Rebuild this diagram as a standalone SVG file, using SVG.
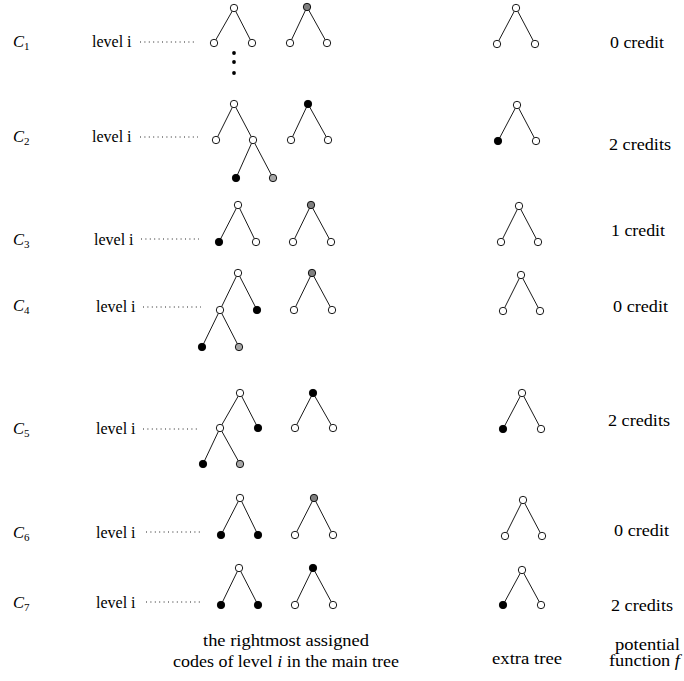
<svg xmlns="http://www.w3.org/2000/svg" width="684" height="681" viewBox="0 0 684 681" font-family="'Liberation Serif', 'DejaVu Serif', serif">
<style>
text{font-family:'Liberation Serif','DejaVu Serif',serif;font-size:16px;fill:#000}
.c{font-style:italic;font-size:16.5px}
.s{font-size:11px;font-style:normal}
.e line{stroke:#000;stroke-width:0.9}
.d{stroke:#222;stroke-width:1;stroke-dasharray:1 3.4}
circle{stroke:#000;stroke-width:0.9;fill:#fff}
circle.b{fill:#000}
circle.g{fill:#7f7f7f}
circle.l{fill:#a6a6a6}
circle.dot{fill:#000;stroke:none}
</style>
<rect width="684" height="681" fill="#fff"/>
<g id="labels">
<text class="c" x="13" y="47">C<tspan class="s" dy="3">1</tspan></text>
<text class="c" x="13" y="142">C<tspan class="s" dy="3">2</tspan></text>
<text class="c" x="13" y="245">C<tspan class="s" dy="3">3</tspan></text>
<text class="c" x="13" y="311">C<tspan class="s" dy="3">4</tspan></text>
<text class="c" x="13" y="434">C<tspan class="s" dy="3">5</tspan></text>
<text class="c" x="13" y="538">C<tspan class="s" dy="3">6</tspan></text>
<text class="c" x="13" y="608">C<tspan class="s" dy="3">7</tspan></text>
<text x="92" y="47">level i</text>
<text x="92" y="142">level i</text>
<text x="94" y="245">level i</text>
<text x="96" y="312">level i</text>
<text x="96" y="434">level i</text>
<text x="96" y="538">level i</text>
<text x="96" y="608">level i</text>
<text x="610" y="48" textLength="54" lengthAdjust="spacingAndGlyphs">0 credit</text>
<text x="609" y="150" textLength="62" lengthAdjust="spacingAndGlyphs">2 credits</text>
<text x="611" y="236" textLength="54" lengthAdjust="spacingAndGlyphs">1 credit</text>
<text x="613" y="312" textLength="55" lengthAdjust="spacingAndGlyphs">0 credit</text>
<text x="608" y="426" textLength="62" lengthAdjust="spacingAndGlyphs">2 credits</text>
<text x="614" y="536" textLength="55" lengthAdjust="spacingAndGlyphs">0 credit</text>
<text x="611" y="611" textLength="62" lengthAdjust="spacingAndGlyphs">2 credits</text>
<text x="203" y="646" textLength="166" lengthAdjust="spacingAndGlyphs">the rightmost assigned</text>
<text x="173" y="667" textLength="226" lengthAdjust="spacingAndGlyphs">codes of level <tspan font-style="italic">i</tspan> in the main tree</text>
<text x="492" y="664" textLength="70" lengthAdjust="spacingAndGlyphs">extra tree</text>
<text x="615" y="650" textLength="65" lengthAdjust="spacingAndGlyphs">potential</text>
<text x="609" y="666" textLength="71" lengthAdjust="spacingAndGlyphs">function <tspan font-style="italic">f</tspan></text>
</g>
<g id="connectors">
<g id="dotted">
<line class="d" x1="140" y1="42" x2="194" y2="42"/>
<line class="d" x1="140" y1="137" x2="198" y2="137"/>
<line class="d" x1="141" y1="239" x2="199" y2="239"/>
<line class="d" x1="143" y1="307" x2="201" y2="307"/>
<line class="d" x1="143" y1="429" x2="200" y2="429"/>
<line class="d" x1="146" y1="532" x2="200" y2="532"/>
<line class="d" x1="146" y1="602" x2="200" y2="602"/>
</g>
<g class="e">
<line x1="234" y1="8" x2="214" y2="43"/><line x1="234" y1="8" x2="252" y2="43"/>
<line x1="307" y1="7" x2="290" y2="43"/><line x1="307" y1="7" x2="327" y2="43"/>
<line x1="516" y1="8" x2="497" y2="44"/><line x1="516" y1="8" x2="535" y2="44"/>

<line x1="234" y1="104" x2="216" y2="140"/><line x1="234" y1="104" x2="253" y2="140"/>
<line x1="253" y1="140" x2="236" y2="178"/><line x1="253" y1="140" x2="273" y2="178"/>
<line x1="308" y1="104" x2="291" y2="140"/><line x1="308" y1="104" x2="328" y2="140"/>
<line x1="517" y1="105" x2="498" y2="141"/><line x1="517" y1="105" x2="536" y2="141"/>

<line x1="238" y1="205" x2="219" y2="242"/><line x1="238" y1="205" x2="256" y2="242"/>
<line x1="311" y1="205" x2="293" y2="242"/><line x1="311" y1="205" x2="331" y2="242"/>
<line x1="519" y1="206" x2="501" y2="242"/><line x1="519" y1="206" x2="538" y2="242"/>

<line x1="238" y1="273" x2="220" y2="310"/><line x1="238" y1="273" x2="257" y2="310"/>
<line x1="220" y1="310" x2="202" y2="347"/><line x1="220" y1="310" x2="239" y2="347"/>
<line x1="312" y1="273" x2="294" y2="310"/><line x1="312" y1="273" x2="332" y2="310"/>
<line x1="521" y1="275" x2="503" y2="311"/><line x1="521" y1="275" x2="540" y2="311"/>

<line x1="240" y1="393" x2="220" y2="428"/><line x1="240" y1="393" x2="258" y2="428"/>
<line x1="220" y1="428" x2="203" y2="464"/><line x1="220" y1="428" x2="240" y2="464"/>
<line x1="313" y1="393" x2="295" y2="428"/><line x1="313" y1="393" x2="333" y2="428"/>
<line x1="522" y1="393" x2="503" y2="429"/><line x1="522" y1="393" x2="541" y2="429"/>

<line x1="240" y1="498" x2="221" y2="535"/><line x1="240" y1="498" x2="258" y2="535"/>
<line x1="314" y1="498" x2="295" y2="535"/><line x1="314" y1="498" x2="333" y2="535"/>
<line x1="523" y1="500" x2="505" y2="536"/><line x1="523" y1="500" x2="542" y2="536"/>

<line x1="239" y1="568" x2="221" y2="605"/><line x1="239" y1="568" x2="258" y2="605"/>
<line x1="313" y1="568" x2="295" y2="605"/><line x1="313" y1="568" x2="333" y2="605"/>
<line x1="522" y1="570" x2="503" y2="605"/><line x1="522" y1="570" x2="541" y2="605"/>
</g>
</g>
<g id="nodes">
<g id="row1">
<circle cx="234" cy="8" r="3.7"/><circle cx="214" cy="43" r="3.7"/><circle cx="252" cy="43" r="3.7"/>
<circle class="g" cx="307" cy="7" r="3.7"/><circle cx="290" cy="43" r="3.7"/><circle cx="327" cy="43" r="3.7"/>
<circle cx="516" cy="8" r="3.7"/><circle cx="497" cy="44" r="3.7"/><circle cx="535" cy="44" r="3.7"/>
<circle class="dot" cx="234" cy="53" r="1.9"/><circle class="dot" cx="234" cy="62" r="1.9"/><circle class="dot" cx="234" cy="73" r="1.9"/>
</g>
<g id="row2">
<circle cx="234" cy="104" r="3.7"/><circle cx="216" cy="140" r="3.7"/><circle cx="253" cy="140" r="3.7"/>
<circle class="b" cx="236" cy="178" r="3.7"/><circle class="l" cx="273" cy="178" r="3.7"/>
<circle class="b" cx="308" cy="104" r="3.7"/><circle cx="291" cy="140" r="3.7"/><circle cx="328" cy="140" r="3.7"/>
<circle cx="517" cy="105" r="3.7"/><circle class="b" cx="498" cy="141" r="3.7"/><circle cx="536" cy="141" r="3.7"/>
</g>
<g id="row3">
<circle cx="238" cy="205" r="3.7"/><circle class="b" cx="219" cy="242" r="3.7"/><circle cx="256" cy="242" r="3.7"/>
<circle class="g" cx="311" cy="205" r="3.7"/><circle cx="293" cy="242" r="3.7"/><circle cx="331" cy="242" r="3.7"/>
<circle cx="519" cy="206" r="3.7"/><circle cx="501" cy="242" r="3.7"/><circle cx="538" cy="242" r="3.7"/>
</g>
<g id="row4">
<circle cx="238" cy="273" r="3.7"/><circle cx="220" cy="310" r="3.7"/><circle class="b" cx="257" cy="310" r="3.7"/>
<circle class="b" cx="202" cy="347" r="3.7"/><circle class="l" cx="239" cy="347" r="3.7"/>
<circle class="g" cx="312" cy="273" r="3.7"/><circle cx="294" cy="310" r="3.7"/><circle cx="332" cy="310" r="3.7"/>
<circle cx="521" cy="275" r="3.7"/><circle cx="503" cy="311" r="3.7"/><circle cx="540" cy="311" r="3.7"/>
</g>
<g id="row5">
<circle cx="240" cy="393" r="3.7"/><circle cx="220" cy="428" r="3.7"/><circle class="b" cx="258" cy="428" r="3.7"/>
<circle class="b" cx="203" cy="464" r="3.7"/><circle class="l" cx="240" cy="464" r="3.7"/>
<circle class="b" cx="313" cy="393" r="3.7"/><circle cx="295" cy="428" r="3.7"/><circle cx="333" cy="428" r="3.7"/>
<circle cx="522" cy="393" r="3.7"/><circle class="b" cx="503" cy="429" r="3.7"/><circle cx="541" cy="429" r="3.7"/>
</g>
<g id="row6">
<circle cx="240" cy="498" r="3.7"/><circle class="b" cx="221" cy="535" r="3.7"/><circle class="b" cx="258" cy="535" r="3.7"/>
<circle class="g" cx="314" cy="498" r="3.7"/><circle cx="295" cy="535" r="3.7"/><circle cx="333" cy="535" r="3.7"/>
<circle cx="523" cy="500" r="3.7"/><circle cx="505" cy="536" r="3.7"/><circle cx="542" cy="536" r="3.7"/>
</g>
<g id="row7">
<circle cx="239" cy="568" r="3.7"/><circle class="b" cx="221" cy="605" r="3.7"/><circle class="b" cx="258" cy="605" r="3.7"/>
<circle class="b" cx="313" cy="568" r="3.7"/><circle cx="295" cy="605" r="3.7"/><circle cx="333" cy="605" r="3.7"/>
<circle cx="522" cy="570" r="3.7"/><circle class="b" cx="503" cy="605" r="3.7"/><circle cx="541" cy="605" r="3.7"/>
</g>
</g>
</svg>
